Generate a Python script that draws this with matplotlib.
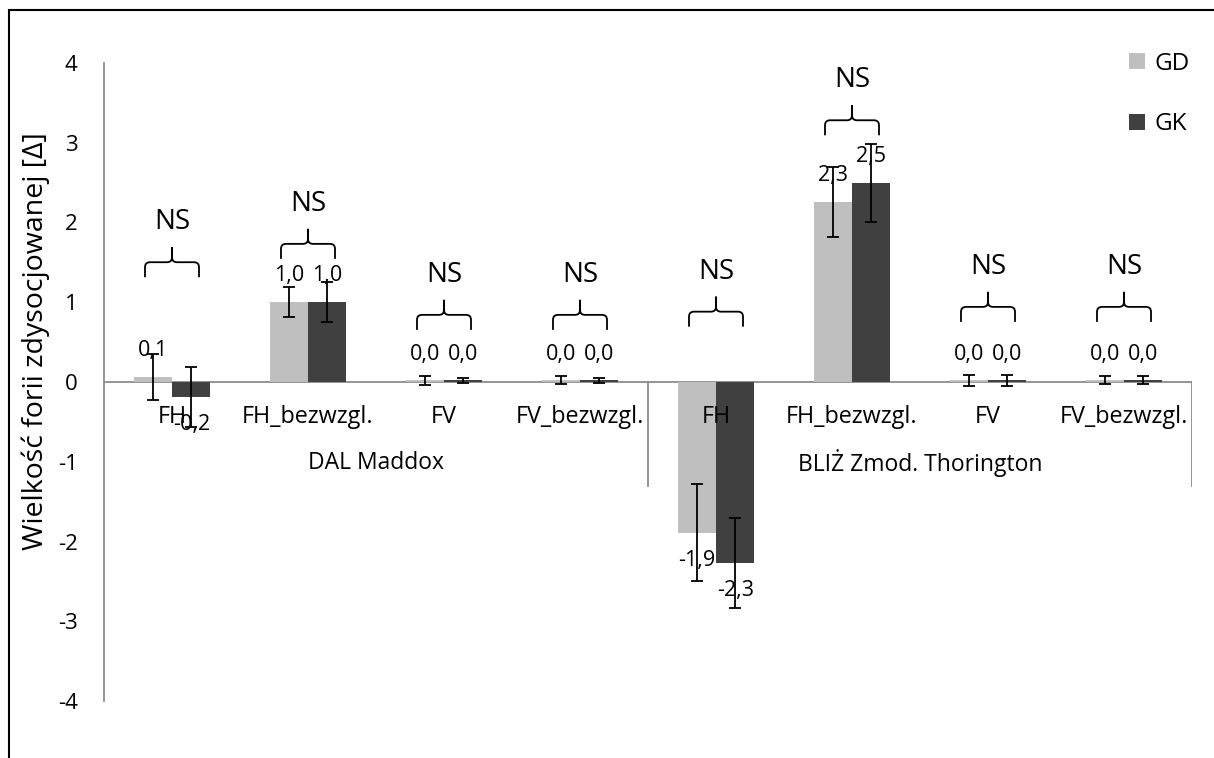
import numpy as np
import matplotlib.pyplot as plt
from matplotlib.path import Path
from matplotlib.patches import PathPatch, Rectangle
from matplotlib.transforms import Affine2D, ScaledTranslation

plt.rcParams['font.family'] = ['Open Sans', 'DejaVu Sans']
plt.rcParams['axes.unicode_minus'] = False

# dane
kategorie = ['FH', 'FH_bezwzgl.', 'FV', 'FV_bezwzgl.',
             'FH', 'FH_bezwzgl.', 'FV', 'FV_bezwzgl.']
grupy = ['DAL Maddox', 'BLIŻ Zmod. Thorington']
gd = [0.06, 1.0, 0.02, 0.02, -1.89, 2.26, 0.02, 0.02]
gk = [-0.19, 1.0, 0.02, 0.02, -2.27, 2.50, 0.02, 0.02]
gd_err = [0.29, 0.19, 0.06, 0.05, 0.61, 0.44, 0.07, 0.05]
gk_err = [0.38, 0.25, 0.03, 0.03, 0.57, 0.49, 0.07, 0.05]
istotnosc = ['NS'] * 8
# wysokość klamer (wierzchołek) w jednostkach osi
klamra_y = [1.69, 1.92, 1.03, 1.03, 1.07, 3.47, 1.13, 1.13]

kolor_gd = '#bfbfbf'
kolor_gk = '#404040'
szary = '#8c8c8c'

fig = plt.figure(figsize=(12.14, 7.58), dpi=100)
ax = fig.add_axes([104/1214, 1 - 701/758, 1088/1214, 638/758])

x = np.arange(len(kategorie))
w = 0.283
ax.bar(x - w/2, gd, w, color=kolor_gd, label='GD', zorder=2)
ax.bar(x + w/2, gk, w, color=kolor_gk, label='GK', zorder=2)
ax.errorbar(x - w/2, gd, yerr=gd_err, fmt='none', ecolor='black',
            elinewidth=1.3, capsize=4.5, capthick=1.3, zorder=4)
ax.errorbar(x + w/2, gk, yerr=gk_err, fmt='none', ecolor='black',
            elinewidth=1.3, capsize=4.5, capthick=1.3, zorder=4)

# etykiety danych
for xs, vals in [(x - w/2, gd), (x + w/2, gk)]:
    for xi, v in zip(xs, vals):
        off = 19 if v >= 0 else -20
        ax.annotate(f'{v:.1f}'.replace('.', ','), (xi, v), xytext=(0, off),
                    textcoords='offset points', ha='center', va='center',
                    fontsize=15.5, zorder=3)

ax.set_xlim(-0.5, 7.5)
ax.set_ylim(-4, 4)
ax.set_yticks(range(-4, 5))
ax.tick_params(axis='y', length=0, pad=19, labelsize=16)
ax.set_xticks([])
for s in ['top', 'right', 'bottom']:
    ax.spines[s].set_visible(False)
ax.spines['left'].set_color(szary)
ax.spines['left'].set_linewidth(1.3)

# oś kategorii na wysokości 0
ax.axhline(0, color=szary, lw=1.3, zorder=1)
for xv in [3.5, 7.5]:
    ax.plot([xv, xv], [0, -1.3], color=szary, lw=1.3, zorder=1)
for xi, k in zip(x, kategorie):
    ax.annotate(k, (xi, 0), xytext=(0, -25), textcoords='offset points',
                ha='center', va='center', fontsize=16.8, zorder=5)
for i, g in enumerate(grupy):
    ax.annotate(g, (1.5 + 4*i, 0), xytext=(0, -58), textcoords='offset points',
                ha='center', va='center', fontsize=16.5)

# klamry z opisem
px = 0.72  # piksele -> punkty przy dpi 100
r = 5
verts = [(-27, -30), (-27, -15 - r), (-27, -15), (-27 + r, -15), (-r, -15),
         (0, -15), (0, -15 + r), (0, 0), (0, -15 + r), (0, -15), (r, -15),
         (27 - r, -15), (27, -15), (27, -15 - r), (27, -30)]
codes = [Path.MOVETO, Path.LINETO, Path.CURVE3, Path.CURVE3, Path.LINETO,
         Path.CURVE3, Path.CURVE3, Path.LINETO, Path.LINETO, Path.CURVE3,
         Path.CURVE3, Path.LINETO, Path.CURVE3, Path.CURVE3, Path.LINETO]
klamra = Path(verts, codes)
for xi, yk, t in zip(x, klamra_y, istotnosc):
    tr = Affine2D().scale(fig.dpi / 100) + ScaledTranslation(xi, yk, ax.transData)
    ax.add_patch(PathPatch(klamra, transform=tr, fill=False, lw=1.3,
                           edgecolor='black', clip_on=False))
    ax.annotate(t, (xi, yk), xytext=(0, 25*px), textcoords='offset points',
                ha='center', va='center', fontsize=20)

fig.legend(loc='upper left', bbox_to_anchor=(1107/1214, 1 - 30/758),
           frameon=False, fontsize=17.5, handlelength=0.65, handleheight=0.65,
           handletextpad=0.4, labelspacing=1.5)

fig.text(36/1214, 1 - 341/758, 'Wielkość forii zdysocjowanej [Δ]',
         rotation=90, ha='center', va='center', fontsize=20.5)

fig.add_artist(Rectangle((9/1214, -0.05), 1.1, 1 - 10/758 + 0.05,
                         transform=fig.transFigure, fill=False,
                         edgecolor='black', lw=1.5))

fig.savefig('out.png', dpi=100)
